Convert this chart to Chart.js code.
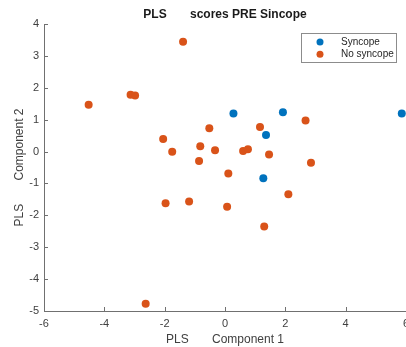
<!DOCTYPE html>
<html>
<head>
<meta charset="utf-8">
<script src="https://cdn.jsdelivr.net/npm/chart.js@4.4.1/dist/chart.umd.min.js"></script>
<style>
  html, body { margin: 0; padding: 0; background: #fff; overflow: hidden; }
  #wrap { width: 432px; height: 347px; }
</style>
</head>
<body>
<div id="wrap"><canvas id="plsChart"></canvas></div>
<script>
// PLS scores
const syncopeX = [0.28, 1.92, 5.86, 1.36, 1.27];
const syncopeY = [1.19, 1.23, 1.19, 0.52, -0.84];

const noSyncopeX = [-4.52, -3.13, -2.98, -1.39, 2.67, -2.05, -1.75, -0.52, -0.82, -0.33, -0.86, 0.60,
    0.76, 1.16, 1.46, 2.85, 0.11, 2.10, -1.97, -1.19, 0.07, 1.30, -2.63];
const noSyncopeY = [1.47, 1.78, 1.76, 3.44, 0.97, 0.39, -0.01, 0.73, 0.17, 0.04, -0.30, 0.02,
    0.07, 0.77, -0.09, -0.35, -0.69, -1.34, -1.62, -1.57, -1.73, -2.35, -4.77];

const xTicks = [-6, -4, -2, 0, 2, 4, 6];
const yTicks = [-5, -4, -3, -2, -1, 0, 1, 2, 3, 4];

const chartTitle = 'PLS       scores PRE Sincope';

const blue = '#0072BD';
const orange = '#D95319';
const axisGray = '#707070';
const textGray = '#404040';
const fontFam = '"Liberation Sans", Arial, Helvetica, sans-serif';

function toPoints(xs, ys) {
    return xs.map((x, i) => ({ x: x, y: ys[i] }));
}

// title centred over the axes, like matlab does it
const axesTitle = {
    id: 'axesTitle',
    afterDraw(chart) {
        const ctx = chart.ctx;
        const area = chart.chartArea;
        ctx.save();
        ctx.font = 'bold 12px ' + fontFam;
        ctx.fillStyle = '#1a1a1a';
        ctx.textAlign = 'center';
        ctx.textBaseline = 'middle';
        ctx.fillText(chartTitle, (area.left + area.right) / 2, area.top - 9);
        ctx.restore();
    }
};

// ticks MATLAB style (pointing inside the axes)
const innerTicks = {
    id: 'innerTicks',
    afterDraw(chart) {
        const ctx = chart.ctx;
        const area = chart.chartArea;
        const xs = chart.scales.x;
        const ys = chart.scales.y;
        ctx.save();
        ctx.strokeStyle = axisGray;
        ctx.lineWidth = 1;
        ctx.beginPath();
        xTicks.forEach(v => {
            const px = Math.round(xs.getPixelForValue(v)) + 0.5;
            ctx.moveTo(px, area.bottom);
            ctx.lineTo(px, area.bottom - 4);
        });
        yTicks.forEach(v => {
            const py = Math.round(ys.getPixelForValue(v)) + 0.5;
            ctx.moveTo(area.left, py);
            ctx.lineTo(area.left + 4, py);
        });
        ctx.stroke();
        ctx.restore();
    }
};

// legend box in the top right corner of the axes
const boxLegend = {
    id: 'boxLegend',
    afterDraw(chart) {
        const ctx = chart.ctx;
        const area = chart.chartArea;
        const w = 95, h = 29;
        const x0 = area.right - 10 - w;
        const y0 = area.top + 9;
        ctx.save();
        ctx.fillStyle = '#fff';
        ctx.fillRect(x0, y0, w, h);
        ctx.strokeStyle = '#8c8c8c';
        ctx.lineWidth = 1;
        ctx.strokeRect(Math.round(x0) + 0.5, Math.round(y0) + 0.5, w, h);
        ctx.font = '10px ' + fontFam;
        ctx.textBaseline = 'middle';
        chart.data.datasets.forEach((ds, i) => {
            const cy = y0 + 9 + i * 12.3;
            ctx.fillStyle = ds.backgroundColor;
            ctx.beginPath();
            ctx.arc(x0 + 19, cy, 3.5, 0, Math.PI * 2);
            ctx.fill();
            ctx.fillStyle = '#262626';
            ctx.fillText(ds.label, x0 + 40, cy);
        });
        ctx.restore();
    }
};

new Chart(document.getElementById('plsChart'), {
    type: 'scatter',
    data: {
        datasets: [
            { label: 'Syncope', data: toPoints(syncopeX, syncopeY), backgroundColor: blue, borderColor: blue, borderWidth: 0, pointRadius: 4 },
            { label: 'No syncope', data: toPoints(noSyncopeX, noSyncopeY), backgroundColor: orange, borderColor: orange, borderWidth: 0, pointRadius: 4 }
        ]
    },
    options: {
        responsive: true,
        maintainAspectRatio: false,
        animation: false,
        layout: { padding: { left: 0, right: 26, top: 24, bottom: 0 } },
        plugins: {
            legend: { display: false },
            tooltip: { enabled: false },
            title: { display: false }
        },
        scales: {
            x: {
                type: 'linear',
                min: -6,
                max: 6,
                afterBuildTicks: s => { s.ticks = xTicks.map(v => ({ value: v })); },
                afterFit: s => { s.height = 36; },
                grid: { display: false, drawTicks: false },
                border: { display: true, color: axisGray },
                ticks: { color: textGray, font: { family: fontFam, size: 11 }, padding: 6 },
                title: {
                    display: true,
                    text: 'PLS       Component 1',
                    color: textGray,
                    font: { family: fontFam, size: 12 },
                    padding: { top: 2, bottom: 0 }
                }
            },
            y: {
                type: 'linear',
                min: -5,
                max: 4,
                afterBuildTicks: s => { s.ticks = yTicks.map(v => ({ value: v })); },
                afterFit: s => { s.width = 44; },
                grid: { display: false, drawTicks: false },
                border: { display: true, color: axisGray },
                ticks: { color: textGray, font: { family: fontFam, size: 11 }, padding: 5 },
                title: {
                    display: true,
                    text: 'PLS       Component 2',
                    color: textGray,
                    font: { family: fontFam, size: 12 },
                    padding: { top: 12, bottom: 2 }
                }
            }
        }
    },
    plugins: [innerTicks, boxLegend, axesTitle]
});
</script>
</body>
</html>
